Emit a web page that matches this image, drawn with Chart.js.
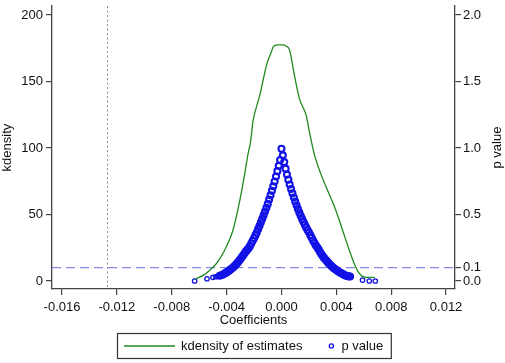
<!DOCTYPE html>
<html>
<head>
<meta charset="utf-8">
<script src="https://cdn.jsdelivr.net/npm/chart.js@4.4.1/dist/chart.umd.min.js"></script>
<style>
  html, body { margin: 0; padding: 0; background: #fff; }
</style>
</head>
<body>
<canvas id="kdChart" width="505" height="363"></canvas>
<script>
// kernel density of the estimates (left axis)
const kdX = [-0.00633, -0.00560, -0.00510, -0.00475, -0.00415, -0.00354, -0.00305, -0.00269, -0.00245, -0.00225,
             -0.00208, -0.00185, -0.00160, -0.00136, -0.00110, -0.00075, -0.00060, -0.00030, 0.00010, 0.00035,
             0.00058, 0.00095, 0.00131, 0.00180, 0.00204, 0.00240, 0.00289, 0.00349, 0.00398, 0.00446,
             0.00495, 0.00531, 0.00567, 0.00604, 0.00640, 0.00680];
const kdY = [1.3, 5.0, 9.4, 13.1, 23, 38, 60, 80, 95, 105,
             120, 130, 139, 150, 162, 172, 176, 177.5, 177.5, 176.5,
             174, 154.3, 137, 124.6, 112, 95, 80, 65, 52.7, 38,
             23, 13, 5.7, 2.9, 2.7, 2.7];

// p values of the placebo estimates (right axis)
const pX = [-0.00633, -0.00543, -0.00500, -0.00480, -0.00465, -0.00450, -0.00435, -0.00420, -0.00410, -0.00400,
            -0.00390, -0.00380, -0.00370, -0.00360, -0.00350, -0.00340, -0.00330, -0.00320, -0.00310, -0.00300,
            -0.00290, -0.00280, -0.00270, -0.00260, -0.00250, -0.00240, -0.00230, -0.00220, -0.00210, -0.00200,
            -0.00190, -0.00180, -0.00170, -0.00160, -0.00150, -0.00140, -0.00130, -0.00120, -0.00110, -0.00100,
            -0.00090, -0.00080, -0.00070, -0.00060, -0.00050, -0.00040, -0.00030, -0.00020, -0.00010, 0.00000,
            0.00010, 0.00020, 0.00030, 0.00040, 0.00050, 0.00060, 0.00070, 0.00080, 0.00090, 0.00100,
            0.00110, 0.00120, 0.00130, 0.00140, 0.00150, 0.00160, 0.00170, 0.00180, 0.00190, 0.00200,
            0.00210, 0.00220, 0.00230, 0.00240, 0.00250, 0.00260, 0.00270, 0.00280, 0.00290, 0.00300,
            0.00310, 0.00320, 0.00330, 0.00340, 0.00350, 0.00360, 0.00370, 0.00380, 0.00390, 0.00400,
            0.00410, 0.00420, 0.00430, 0.00440, 0.00450, 0.00460, 0.00470, 0.00480, 0.00490, 0.00500,
            0.00591, 0.00640, 0.00684];
const pY = [0.000, 0.017, 0.028, 0.032, 0.035, 0.040, 0.045, 0.052, 0.058, 0.066,
            0.072, 0.080, 0.088, 0.096, 0.105, 0.115, 0.126, 0.138, 0.150, 0.163,
            0.178, 0.192, 0.207, 0.222, 0.234, 0.246, 0.262, 0.282, 0.302, 0.322,
            0.343, 0.365, 0.390, 0.415, 0.442, 0.468, 0.494, 0.522, 0.550, 0.580,
            0.612, 0.644, 0.678, 0.712, 0.748, 0.786, 0.826, 0.866, 0.910, 0.995,
            0.945, 0.894, 0.845, 0.800, 0.762, 0.726, 0.692, 0.659, 0.628, 0.598,
            0.570, 0.541, 0.515, 0.491, 0.467, 0.445, 0.424, 0.403, 0.384, 0.366,
            0.345, 0.325, 0.305, 0.287, 0.269, 0.253, 0.238, 0.220, 0.203, 0.188,
            0.174, 0.162, 0.150, 0.138, 0.128, 0.117, 0.107, 0.098, 0.090, 0.082,
            0.075, 0.068, 0.062, 0.056, 0.050, 0.045, 0.040, 0.037, 0.035, 0.034,
            0.007, 0.000, 0.000];

const xTicks = [-0.016, -0.012, -0.008, -0.004, 0, 0.004, 0.008, 0.012];
const yTicks = [0, 50, 100, 150, 200];
const pTicks = [0, 0.1, 0.5, 1.0, 1.5, 2.0];
const refCoef = -0.0127;   // true estimate (vertical dotted line)
const refP = 0.1;          // significance level (horizontal dashed line)

const FONT = 'Liberation Sans, Arial, sans-serif';
const TXT = '#111';
const AXIS = '#444';
const GREEN = '#1f8a1f';
const BLUE = '#1212e6';

// isolated circles at both tails are drawn thinner than the dense band
const isTail = c => c.raw && (c.raw.x < -0.0045 || c.raw.x > 0.0052);

const refLines = {
    id: 'refLines',
    beforeDatasetsDraw(chart) {
        const { ctx, chartArea, scales } = chart;
        ctx.save();
        const vx = Math.round(scales.x.getPixelForValue(refCoef)) + 0.5;
        ctx.strokeStyle = '#7f8c8c';
        ctx.lineWidth = 1;
        ctx.setLineDash([2, 2.5]);
        ctx.beginPath();
        ctx.moveTo(vx, chartArea.top);
        ctx.lineTo(vx, chartArea.bottom);
        ctx.stroke();
        const hy = scales.y2.getPixelForValue(refP);
        ctx.strokeStyle = '#8686e8';
        ctx.lineWidth = 1.3;
        ctx.setLineDash([9, 5]);
        ctx.beginPath();
        ctx.moveTo(chartArea.left, hy);
        ctx.lineTo(chartArea.right, hy);
        ctx.stroke();
        ctx.restore();
    }
};

const extras = {
    id: 'extras',
    afterDraw(chart) {
        const { ctx, chartArea } = chart;
        ctx.save();
        ctx.font = '13px ' + FONT;
        ctx.fillStyle = TXT;
        // right axis title, reading bottom to top like the left one
        ctx.translate(chart.width - 8, (chartArea.top + chartArea.bottom) / 2);
        ctx.rotate(-Math.PI / 2);
        ctx.textAlign = 'center';
        ctx.textBaseline = 'middle';
        ctx.fillText('p value', 0, 0);
        ctx.restore();

        // legend in a box
        const lab1 = 'kdensity of estimates';
        const lab2 = 'p value';
        ctx.save();
        ctx.font = '13px ' + FONT;
        const w1 = ctx.measureText(lab1).width;
        const w2 = ctx.measureText(lab2).width;
        const boxW = 6.5 + 51 + 6 + w1 + 29 + 10 + w2 + 8;
        const boxH = 25;
        const cx = (chartArea.left + chartArea.right) / 2;
        const left = Math.round(cx - boxW / 2) + 0.5;
        const top = 333.5;
        const midY = top + boxH / 2;
        ctx.strokeStyle = '#333';
        ctx.lineWidth = 1.2;
        ctx.strokeRect(left, top, boxW, boxH);
        ctx.strokeStyle = GREEN;
        ctx.lineWidth = 1.3;
        ctx.beginPath();
        ctx.moveTo(left + 6.5, midY);
        ctx.lineTo(left + 57.5, midY);
        ctx.stroke();
        ctx.fillStyle = TXT;
        ctx.textBaseline = 'middle';
        ctx.textAlign = 'left';
        const t1 = left + 63.5;
        ctx.fillText(lab1, t1, midY);
        const cm = t1 + w1 + 29;
        ctx.strokeStyle = BLUE;
        ctx.lineWidth = 1.3;
        ctx.beginPath();
        ctx.arc(cm, midY, 2.1, 0, Math.PI * 2);
        ctx.stroke();
        ctx.fillText(lab2, cm + 10, midY);
        ctx.restore();
    }
};

const ctx = document.getElementById('kdChart').getContext('2d');
new Chart(ctx, {
    type: 'scatter',
    data: {
        datasets: [
            {
                type: 'line',
                label: 'kdensity of estimates',
                data: kdX.map((x, i) => ({ x: x, y: kdY[i] })),
                borderColor: GREEN,
                borderWidth: 1.3,
                pointRadius: 0,
                fill: false,
                cubicInterpolationMode: 'monotone',
                yAxisID: 'y'
            },
            {
                label: 'p value',
                data: pX.map((x, i) => ({ x: x, y: pY[i] })),
                borderColor: BLUE,
                backgroundColor: 'rgba(0,0,0,0)',
                borderWidth: c => isTail(c) ? 1.3 : 2.1,
                pointRadius: c => isTail(c) ? 2.2 : 3,
                pointStyle: 'circle',
                showLine: false,
                yAxisID: 'y2'
            }
        ]
    },
    options: {
        responsive: false,
        animation: false,
        layout: { padding: { top: 3, bottom: 34, left: 0, right: 0 } },
        plugins: {
            legend: { display: false },
            tooltip: { enabled: false }
        },
        scales: {
            x: {
                type: 'linear',
                min: -0.01673,
                max: 0.01265,
                afterBuildTicks: s => { s.ticks = xTicks.map(v => ({ value: v })); },
                afterFit: s => { s.height = 40; s.paddingLeft = 0; s.paddingRight = 0; },
                ticks: {
                    callback: v => v.toFixed(3),
                    font: { family: FONT, size: 13 },
                    color: TXT,
                    padding: 5,
                    maxRotation: 0
                },
                grid: { drawOnChartArea: false, tickLength: 6, color: AXIS, lineWidth: 1.2 },
                border: { color: AXIS, width: 1.3 },
                title: {
                    display: true,
                    text: 'Coefficients',
                    font: { family: FONT, size: 13 },
                    color: TXT,
                    padding: { top: 0, bottom: 1 }
                }
            },
            y: {
                position: 'left',
                min: -6,
                max: 206.7,
                afterBuildTicks: s => { s.ticks = yTicks.map(v => ({ value: v })); },
                afterFit: s => { s.width = 52; s.paddingTop = 0; s.paddingBottom = 0; },
                ticks: {
                    font: { family: FONT, size: 13 },
                    color: TXT,
                    padding: 3
                },
                grid: { drawOnChartArea: false, tickLength: 6, color: AXIS, lineWidth: 1.2 },
                border: { color: AXIS, width: 1.3 },
                title: {
                    display: true,
                    text: 'kdensity',
                    font: { family: FONT, size: 13 },
                    color: TXT,
                    padding: 0
                }
            },
            y2: {
                position: 'right',
                min: -0.06,
                max: 2.067,
                afterBuildTicks: s => { s.ticks = pTicks.map(v => ({ value: v })); },
                afterFit: s => { s.width = 50; s.paddingTop = 0; s.paddingBottom = 0; },
                ticks: {
                    callback: v => v.toFixed(1),
                    font: { family: FONT, size: 13 },
                    color: TXT,
                    padding: 2
                },
                grid: { drawOnChartArea: false, tickLength: 6, color: AXIS, lineWidth: 1.2 },
                border: { color: AXIS, width: 1.3 },
                title: { display: false }
            }
        }
    },
    plugins: [refLines, extras]
});
</script>
</body>
</html>
